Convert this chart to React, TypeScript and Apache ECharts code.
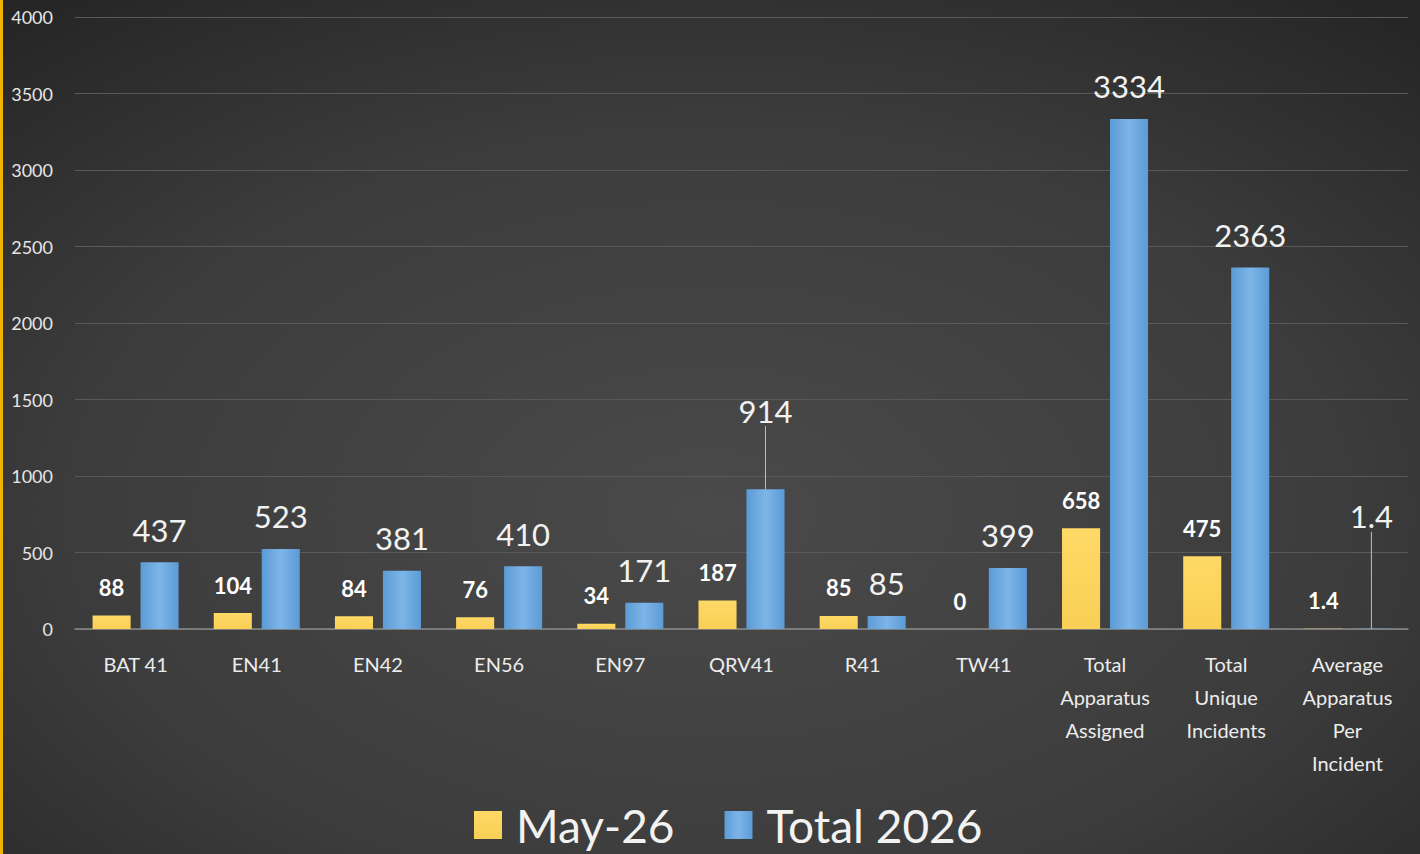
import React, { useEffect, useRef } from "react";
import * as echarts from "echarts";

const categories = [
  "BAT 41",
  "EN41",
  "EN42",
  "EN56",
  "EN97",
  "QRV41",
  "R41",
  "TW41",
  "Total\nApparatus\nAssigned",
  "Total\nUnique\nIncidents",
  "Average\nApparatus\nPer\nIncident",
];
const may26 = [88, 104, 84, 76, 34, 187, 85, 0, 658, 475, 1.4];
const total2026 = [437, 523, 381, 410, 171, 914, 85, 399, 3334, 2363, 1.4];
const seriesNames = ["May-26", "Total 2026"];
// label offsets (pixels) for labels that Excel moved away from their bars
const totalLabelShift: Record<number, number> = { 5: -46, 10: -80 };

const FONT = "Lato, 'Open Sans', sans-serif";

export default function App() {
  const ref = useRef<HTMLDivElement>(null);
  useEffect(() => {
    document.body.style.margin = "0";
    if (!ref.current) return;
    const chart = echarts.init(ref.current, null, { renderer: "svg" });
    chart.setOption({
      animation: false,
      backgroundColor: new echarts.graphic.RadialGradient(0.5, 0.6, 0.75, [
        { offset: 0, color: "#4a4a4a" },
        { offset: 0.6, color: "#3c3c3c" },
        { offset: 1, color: "#262626" },
      ]),
      textStyle: { fontFamily: FONT },
      grid: { left: 75, right: 12, top: 17, bottom: 225 },
      legend: {
        bottom: 1,
        left: 469,
        itemWidth: 28,
        itemHeight: 28,
        itemGap: 50,
        icon: "rect",
        textStyle: { color: "#f2f2f2", fontSize: 46, fontFamily: FONT, padding: [0, 0, 0, 9] },
        data: seriesNames,
      },
      xAxis: {
        type: "category",
        data: categories,
        axisLine: { show: true, lineStyle: { color: "#8a8a8a", width: 1.5 } },
        axisTick: { show: false },
        axisLabel: {
          color: "#ececec",
          fontSize: 20,
          lineHeight: 33,
          margin: 18,
          interval: 0,
          fontFamily: FONT,
        },
      },
      yAxis: {
        type: "value",
        min: 0,
        max: 4000,
        interval: 500,
        axisLine: { show: false },
        axisTick: { show: false },
        splitLine: { lineStyle: { color: "#595959", width: 1 } },
        axisLabel: {
          color: "#e6e6e6",
          fontSize: 18,
          margin: 22,
          fontFamily: FONT,
          formatter: (v: number) => String(v),
        },
      },
      series: [
        {
          name: seriesNames[0],
          type: "bar",
          data: may26,
          barGap: "26%",
          barCategoryGap: "29%",
          itemStyle: {
            color: new echarts.graphic.LinearGradient(0, 0, 0, 1, [
              { offset: 0, color: "#ffd966" },
              { offset: 1, color: "#f9cf55" },
            ]),
          },
          label: {
            show: true,
            position: "top",
            distance: 17,
            color: "#ffffff",
            fontSize: 22,
            fontWeight: "bold",
            fontFamily: FONT,
          },
        },
        {
          name: seriesNames[1],
          type: "bar",
          data: total2026.map((v, i) =>
            totalLabelShift[i] !== undefined
              ? { value: v, labelLine: { show: true, lineStyle: { color: "#bfbfbf", width: 1 } } }
              : v
          ),
          itemStyle: {
            color: new echarts.graphic.LinearGradient(0, 0, 1, 0, [
              { offset: 0, color: "#5b9bd5" },
              { offset: 0.5, color: "#7db5e8" },
              { offset: 1, color: "#5b9bd5" },
            ]),
          },
          label: {
            show: true,
            position: "top",
            distance: 17,
            color: "#f2f2f2",
            fontSize: 31,
            fontFamily: FONT,
          },
          labelLayout: (params: any) => {
            const dy = totalLabelShift[params.dataIndex];
            return dy !== undefined ? { dy } : {};
          },
          labelLine: { show: false },
        },
      ],
      graphic: [
        {
          type: "rect",
          left: 0,
          top: 0,
          shape: { width: 3, height: 854 },
          style: { fill: "#f0b400" },
        },
      ],
    });
    return () => chart.dispose();
  }, []);
  return <div ref={ref} style={{ width: 1420, height: 854 }} />;
}
